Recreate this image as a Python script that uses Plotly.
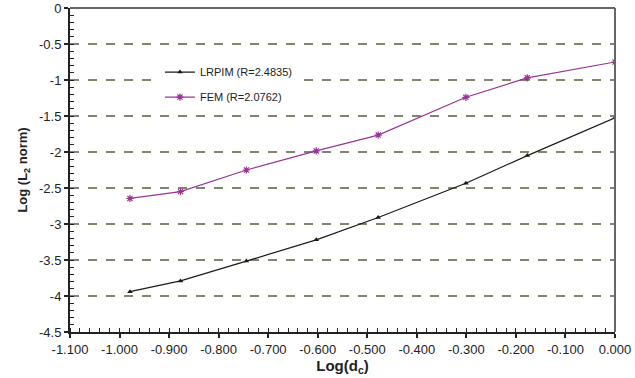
import plotly.graph_objects as go

log_dc = [-0.979, -0.877, -0.744, -0.603, -0.478, -0.301, -0.177, 0.0]
lrpim = [-3.94, -3.79, -3.515, -3.22, -2.91, -2.435, -2.05, -1.525]
fem = [-2.645, -2.55, -2.25, -1.985, -1.765, -1.24, -0.97, -0.75]
x_ticks = [-1.1, -1.0, -0.9, -0.8, -0.7, -0.6, -0.5, -0.4, -0.3, -0.2, -0.1, 0.0]
y_ticks = [0, -0.5, -1, -1.5, -2, -2.5, -3, -3.5, -4, -4.5]
y_labels = ["0", "-0.5", "-1", "-1.5", "-2", "-2.5", "-3", "-3.5", "-4", "-4.5"]

fig = go.Figure()
fig.add_trace(go.Scatter(x=log_dc, y=lrpim, mode="lines+markers", name="LRPIM (R=2.4835)",
                         legendgroup="a",
                         line=dict(color="#1a1a1a", width=1.2),
                         marker=dict(symbol="triangle-up", size=5, color="#1a1a1a")))
fig.add_trace(go.Scatter(x=log_dc, y=fem, mode="lines+markers", name="FEM (R=2.0762)",
                         legendgroup="b",
                         line=dict(color="#9b3397", width=1.2),
                         marker=dict(symbol="asterisk-open", size=6, color="#9b3397",
                                     line=dict(color="#9b3397", width=1.2))))

font = "Liberation Sans, Arial, sans-serif"
fig.update_layout(
    width=635, height=378,
    margin=dict(l=70, r=20, t=8, b=46, autoexpand=False),
    paper_bgcolor="white", plot_bgcolor="white",
    font=dict(family=font, size=13, color="#222"),
    showlegend=True,
    legend=dict(x=0.165, y=0.847, xanchor="left", yanchor="top", bgcolor="white",
                font=dict(size=11, color="#222"), tracegroupgap=6, itemwidth=30),
    xaxis=dict(range=[-1.1, 0.0], tickvals=x_ticks, ticktext=[f"{v:.3f}" for v in x_ticks],
               automargin=False,
               showgrid=False, zeroline=False, showline=True, linecolor="#222", linewidth=2,
               ticks="outside", ticklen=4, tickcolor="#222", tickwidth=1.5,
               minor=dict(dtick=0.02, ticks="inside", ticklen=4, tickcolor="#222", tickwidth=1),
               title=dict(text="<b>Log(d<sub>c</sub>)</b>", font=dict(size=15), standoff=4)),
    yaxis=dict(range=[-4.5, 0.0], tickvals=y_ticks, ticktext=y_labels,
               automargin=False,
               showgrid=True, gridcolor="#85856f", griddash="dash", gridwidth=1.5,
               zeroline=False, showline=True, linecolor="#222", linewidth=2,
               ticks="outside", ticklen=4, tickcolor="#222", tickwidth=1.5,
               minor=dict(dtick=0.1, ticks="inside", ticklen=4, tickcolor="#222", tickwidth=1, showgrid=False),
               title=dict(text="<b>Log (L<sub>2</sub> norm)</b>", font=dict(size=13), standoff=8)),
)
fig.add_shape(type="line", xref="x domain", yref="y domain", x0=0, x1=1, y0=1, y1=1,
              line=dict(color="#666", width=2))
fig.add_shape(type="line", xref="x domain", yref="y domain", x0=1, x1=1, y0=0, y1=1,
              line=dict(color="#666", width=2))
fig.write_html("out.html", config={"displayModeBar": False},
               post_script="document.body.style.margin='0px';document.body.style.overflow='hidden';")
